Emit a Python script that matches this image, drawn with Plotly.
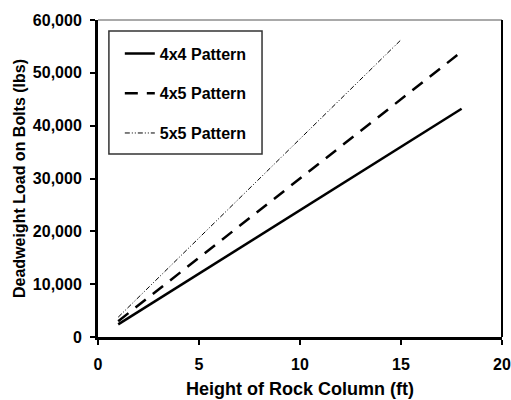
import plotly.graph_objects as go

# Data
heights_4x4 = [1, 5, 10, 15, 18]
load_4x4 = [2400, 12000, 24000, 36000, 43200]
heights_4x5 = [1, 5, 10, 15, 18]
load_4x5 = [3000, 15000, 30000, 45000, 54000]
heights_5x5 = [1, 5, 10, 15]
load_5x5 = [3750, 18750, 37500, 56250]
series_names = ["4x4 Pattern", "4x5 Pattern", "5x5 Pattern"]
x_ticks = [0, 5, 10, 15, 20]
y_ticks = [0, 10000, 20000, 30000, 40000, 50000, 60000]

FONT = "Arial, 'Liberation Sans', Helvetica, sans-serif"

fig = go.Figure()
fig.add_trace(go.Scatter(x=heights_4x4, y=load_4x4, mode="lines", name=series_names[0],
                         legendgroup="a", line=dict(color="black", width=2.5)))
fig.add_trace(go.Scatter(x=heights_4x5, y=load_4x5, mode="lines", name=series_names[1],
                         legendgroup="b", line=dict(color="black", width=2.5, dash="13px,9px")))
fig.add_trace(go.Scatter(x=heights_5x5, y=load_5x5, mode="lines", name=series_names[2],
                         legendgroup="c", line=dict(color="black", width=1, dash="5px,2px,1px,2px,1px,2px")))

fig.update_layout(
    width=511, height=400,
    margin=dict(l=98, r=9, t=20, b=63),
    paper_bgcolor="white", plot_bgcolor="white",
    font=dict(family=FONT, color="black", size=16, weight="bold"),
    showlegend=True,
    legend=dict(x=0.054, y=0.948, xanchor="left", yanchor="top",
                bgcolor="rgba(0,0,0,0)", borderwidth=0,
                tracegroupgap=16, traceorder="grouped",
                font=dict(family=FONT, size=16, color="black", weight="bold")),
    xaxis=dict(range=[0, 20], tickvals=x_ticks, showgrid=False, zeroline=False,
               automargin=False,
               showline=True, linecolor="black", linewidth=3,
               ticks="outside", ticklen=5, tickwidth=2, tickcolor="black",
               ticklabelstandoff=6,
               title=dict(text="Height of Rock Column (ft)", standoff=11,
                          font=dict(size=18, weight="bold"))),
    yaxis=dict(range=[0, 60000], tickvals=y_ticks, tickformat=",d", showgrid=False, zeroline=False,
               automargin=False,
               showline=True, linecolor="black", linewidth=3,
               ticks="outside", ticklen=5, tickwidth=2, tickcolor="black",
               ticklabelstandoff=5,
               title=dict(text="Deadweight Load on Bolts (lbs)", standoff=4,
                          font=dict(size=16, weight="bold"))),
    shapes=[
        dict(type="line", xref="paper", yref="paper", x0=0, x1=1, y0=1, y1=1,
             line=dict(color="#555555", width=1)),
        dict(type="line", xref="paper", yref="paper", x0=1, x1=1, y0=0, y1=1,
             line=dict(color="black", width=2)),
        dict(type="rect", xref="paper", yref="paper", x0=0.027, x1=0.406, y0=0.577, y1=0.965,
             line=dict(color="#333333", width=1.5)),
    ],
)

fig.write_html("out.html")
